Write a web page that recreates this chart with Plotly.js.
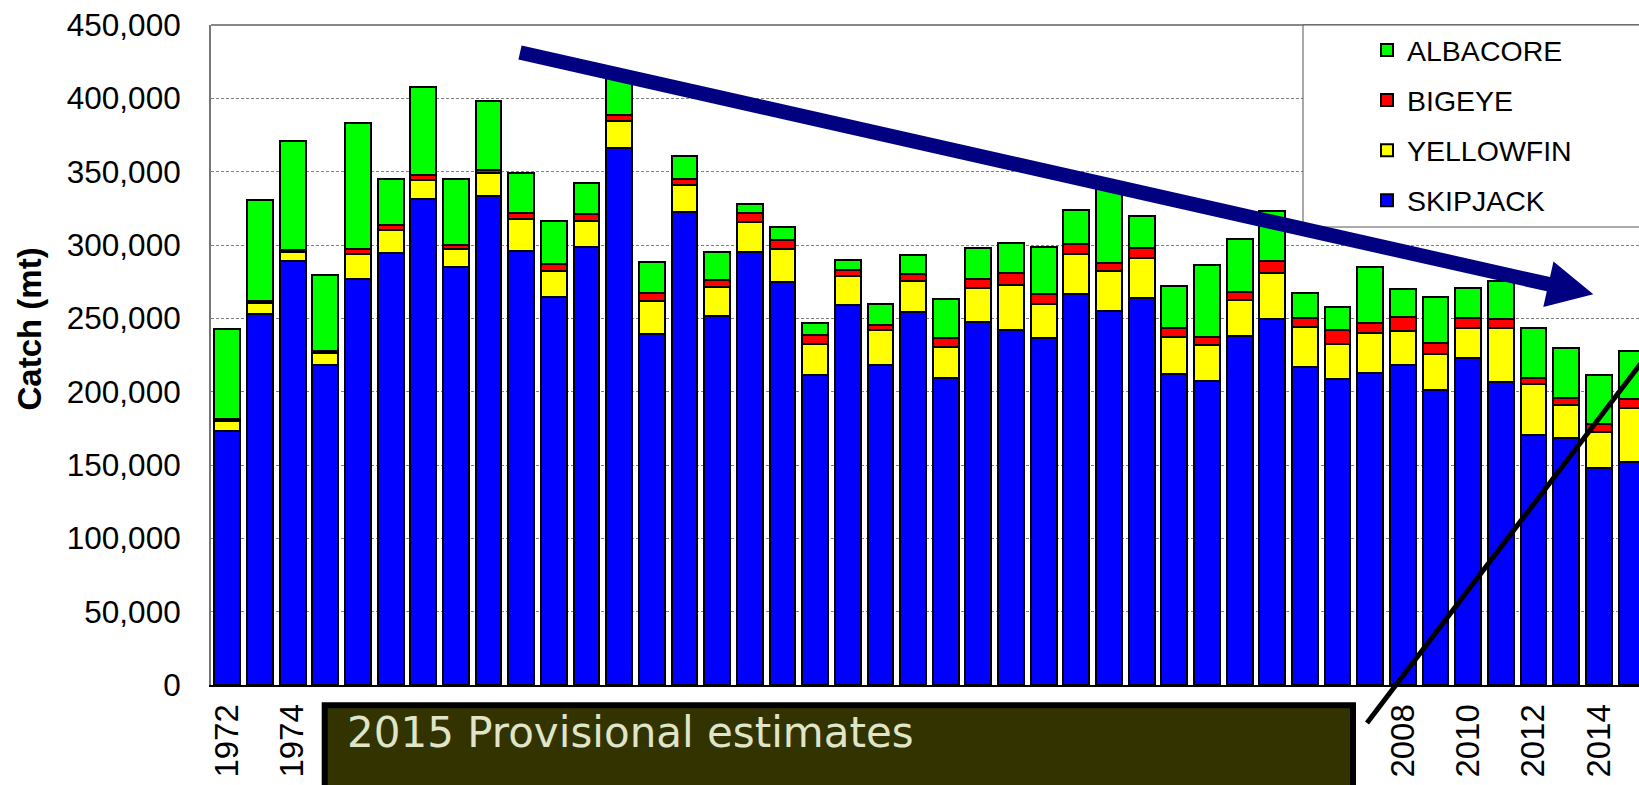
<!DOCTYPE html>
<html>
<head>
<meta charset="utf-8">
<script src="https://cdn.plot.ly/plotly-3.0.1.min.js"></script>
<style>
  html, body { margin: 0; padding: 0; overflow: hidden; background: #ffffff; }
  #chart { width: 1639px; height: 785px; }
</style>
</head>
<body>
<div id="chart"></div>
<script>
// ---- data (metric tonnes) ----
const years = ["1972","1973","1974","1975","1976","1977","1978","1979","1980","1981",
  "1982","1983","1984","1985","1986","1987","1988","1989","1990","1991",
  "1992","1993","1994","1995","1996","1997","1998","1999","2000","2001",
  "2002","2003","2004","2005","2006","2007","2008","2009","2010","2011",
  "2012","2013","2014","2015"];

const skipjack = [173000, 253000, 289000, 218200, 276600, 294300, 331400, 285200, 333400, 295900,
  264500, 298900, 366400, 239100, 322500, 251800, 295200, 275000, 211600, 259300,
  218400, 254500, 209100, 247300, 242300, 236600, 266600, 255200, 264100, 211800,
  207000, 237700, 249800, 216600, 208400, 212500, 218200, 200900, 223200, 206600,
  170200, 168400, 148200, 152000];

const yellowfin = [7000, 7700, 6400, 8000, 17300, 15900, 12700, 12300, 15500, 22000,
  17700, 17300, 18000, 22900, 18200, 19300, 20700, 22300, 20900, 19500,
  23400, 20900, 21600, 23400, 30700, 23000, 27500, 27000, 27300, 25500,
  24800, 24800, 30900, 27300, 24300, 27300, 23200, 24500, 20500, 37000,
  35000, 22500, 24500, 37000];

const bigeye = [1500, 1300, 1400, 1300, 3400, 3200, 3400, 2700, 2300, 3600,
  4600, 5200, 4500, 5000, 4100, 4800, 5900, 5900, 5900, 4100,
  3900, 4500, 5700, 6400, 8200, 6800, 6800, 5700, 6800, 5900,
  5700, 5400, 8600, 6600, 9300, 7000, 9300, 7700, 6800, 5900,
  3900, 5000, 5000, 5700];

const albacore = [61500, 68700, 74100, 52000, 85700, 31800, 60000, 44500, 47300, 27300,
  29500, 20700, 29000, 21100, 16100, 19100, 6100, 8900, 8600, 6800,
  13900, 13000, 26600, 21100, 20200, 32300, 22700, 52000, 21600, 29100,
  48600, 35900, 34100, 16600, 15900, 38200, 19300, 31600, 20000, 26100,
  34300, 33900, 33900, 33200];

const seriesNames = ["SKIPJACK", "YELLOWFIN", "BIGEYE", "ALBACORE"];
const yTicks = [0, 50000, 100000, 150000, 200000, 250000, 300000, 350000, 400000, 450000];
const xTickYears = years.filter(y => Number(y) % 2 === 0);

// ---- styling ----
const colors = ["#0000FF", "#FFFF00", "#FF0000", "#00FF00"];
const FONT = "Liberation Sans, Arial, sans-serif";

// plot-area geometry (pixels) used to place decorations
const L = 211, T = 25, W = 1428, H = 660;
const px = x => (x - L) / W;
const py = y => (T + H - y) / H;
const pathFrom = pts => pts.map((p, i) => (i ? "L" : "M") + px(p[0]).toFixed(5) + "," + py(p[1]).toFixed(5)).join(" ") + " Z";

const values = [skipjack, yellowfin, bigeye, albacore];
const traces = values.map((v, i) => ({
  type: "bar",
  name: seriesNames[i],
  x: years,
  y: v,
  legendgroup: seriesNames[i],
  legendrank: 10 - i,   // top-most stack segment first in the legend
  marker: { color: colors[i], line: { color: "#000000", width: 2 } },
  hoverinfo: "skip"
}));

const arrowPts = [[521.6,45.4],[1550.0,277.1],[1553.5,261.5],[1593.3,294.3],[1543.3,306.9],[1546.8,291.3],[518.4,59.6]];

const layout = {
  width: 1639,
  height: 785,
  margin: { l: L, r: 0, t: T, b: 785 - T - H, autoexpand: false },
  paper_bgcolor: "#ffffff",
  plot_bgcolor: "#ffffff",
  barmode: "stack",
  bargap: 0.21,
  font: { family: FONT, color: "#000000" },
  showlegend: true,
  legend: {
    x: px(1367), y: 1.0, xanchor: "left", yanchor: "top",
    bgcolor: "rgba(0,0,0,0)", borderwidth: 0,
    font: { family: FONT, size: 28.5, color: "#000000" },
    traceorder: "grouped",
    tracegroupgap: 10
  },
  xaxis: {
    type: "category",
    range: [-0.5, 43.23],
    tickmode: "array",
    tickvals: xTickYears,
    ticktext: xTickYears,
    tickangle: -90,
    tickfont: { family: FONT, size: 33, color: "#000000" },
    ticks: "outside", ticklen: 4, tickcolor: "rgba(0,0,0,0)",
    showgrid: false,
    showline: true, linecolor: "#000000", linewidth: 2,
    zeroline: false
  },
  yaxis: {
    range: [0, 450000],
    tickmode: "array",
    tickvals: yTicks,
    tickformat: ",d",
    tickfont: { family: FONT, size: 31.5, color: "#000000" },
    ticks: "outside", ticklen: 22, tickcolor: "rgba(0,0,0,0)",
    showgrid: true, gridcolor: "#808080", gridwidth: 1, griddash: "3px,2px",
    showline: true, linecolor: "#777777", linewidth: 2,
    zeroline: false
  },
  shapes: [
    // top border of the plot area
    { type: "line", xref: "paper", yref: "paper", x0: 0, x1: 1.02, y0: 1, y1: 1,
      line: { color: "#888888", width: 2 }, layer: "above" },
    // legend frame
    { type: "rect", xref: "paper", yref: "paper", x0: px(1303), x1: px(1665), y0: py(227), y1: py(25),
      fillcolor: "#ffffff", line: { color: "#555555", width: 1 }, layer: "above" },
    // downward-trend arrow
    { type: "path", xref: "paper", yref: "paper", path: pathFrom(arrowPts),
      fillcolor: "#000080", line: { width: 0 }, layer: "above" },
    // black pointer line
    { type: "line", xref: "paper", yref: "paper", x0: px(1367), y0: py(723), x1: px(1645), y1: py(358),
      line: { color: "#000000", width: 5 }, layer: "above" },
    // provisional-estimates box
    { type: "rect", xref: "paper", yref: "paper", x0: px(324.7), y0: py(705.3), x1: px(1353), y1: py(800),
      fillcolor: "#333300", line: { color: "#000000", width: 6 }, layer: "above" }
  ],
  annotations: [
    { text: "2015 Provisional estimates", xref: "paper", yref: "paper",
      x: px(344.7), y: py(732.7), xanchor: "left", yanchor: "middle", showarrow: false,
      font: { family: "DejaVu Sans, Verdana, sans-serif", size: 42, color: "#dfe5c6" } },
    { text: "<b>Catch (mt)</b>", xref: "paper", yref: "paper",
      x: px(28.5), y: py(329), xanchor: "center", yanchor: "middle", textangle: -90, showarrow: false,
      font: { family: FONT, size: 33, color: "#000000" } }
  ]
};

Plotly.newPlot("chart", traces, layout, { staticPlot: true, displayModeBar: false });
</script>
</body>
</html>
